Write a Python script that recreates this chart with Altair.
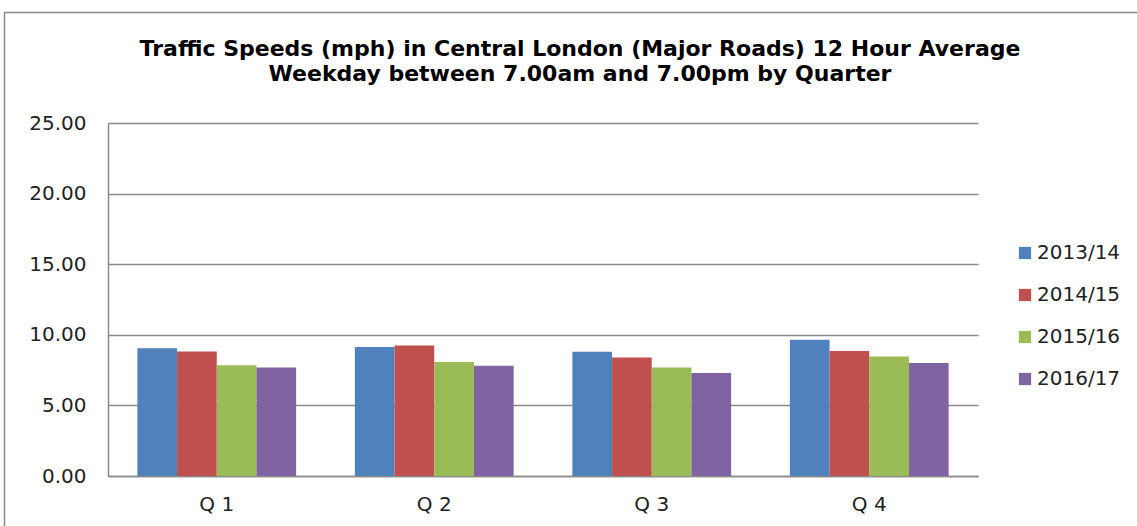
import altair as alt
import pandas as pd

quarters = ["Q 1", "Q 2", "Q 3", "Q 4"]
years = ["2013/14", "2014/15", "2015/16", "2016/17"]
speeds = {
    "2013/14": [9.04, 9.13, 8.80, 9.65],
    "2014/15": [8.82, 9.25, 8.40, 8.85],
    "2015/16": [7.85, 8.07, 7.69, 8.47],
    "2016/17": [7.69, 7.81, 7.29, 8.00],
}
colors = ["#4F81BD", "#C0504D", "#9BBB59", "#8064A2"]
title_lines = [
    "Traffic Speeds (mph) in Central London (Major Roads) 12 Hour Average",
    "Weekday between 7.00am and 7.00pm by Quarter",
]

rows = []
for y in years:
    for q, v in zip(quarters, speeds[y]):
        rows.append({"Quarter": q, "Year": y, "Speed": v})
df = pd.DataFrame(rows)

LABEL_FONT = "DejaVu Sans"

bars = alt.Chart(df).mark_bar().encode(
    x=alt.X("Quarter:N", sort=quarters, title=None,
            scale=alt.Scale(paddingInner=0.27, paddingOuter=0.135),
            axis=alt.Axis(labelAngle=0, ticks=False, labelPadding=18,
                          domainColor="#8a8a8a", domainWidth=1.5)),
    xOffset=alt.XOffset("Year:N", sort=years, scale=alt.Scale(paddingInner=0, paddingOuter=0)),
    y=alt.Y("Speed:Q", title=None,
            scale=alt.Scale(domain=[0, 25], nice=False),
            axis=alt.Axis(values=[0, 5, 10, 15, 20, 25], format=".2f", ticks=False,
                          labelPadding=22, gridColor="#8a8a8a", gridWidth=1.5,
                          domainColor="#8a8a8a", domainWidth=1.5)),
    color=alt.Color("Year:N", sort=years, title=None,
                    scale=alt.Scale(domain=years, range=colors),
                    legend=alt.Legend(orient="none", legendX=907, legendY=120,
                                      symbolType="square", symbolSize=150,
                                      symbolStrokeWidth=0, labelFontSize=20,
                                      labelFont=LABEL_FONT, labelColor="#222222",
                                      rowPadding=22, labelOffset=2)),
)

frame_data = alt.Data(values=[{"a": 1}])
left_line = alt.Chart(frame_data).mark_rule(color="#8a8a8a", strokeWidth=1.5).encode(
    x=alt.value(-103.5), y=alt.value(-111), y2=alt.value(410)
)
top_line = alt.Chart(frame_data).mark_rule(color="#8a8a8a", strokeWidth=1.5).encode(
    x=alt.value(-104), x2=alt.value(1040), y=alt.value(-110.5)
)

def title_text(line, ypos):
    return alt.Chart(frame_data).mark_text(
        font="DejaVu Sans", fontSize=22, fontWeight="bold", color="#000000",
        align="center", baseline="alphabetic"
    ).encode(x=alt.value(472), y=alt.value(ypos), text=alt.value(line))

t1 = title_text(title_lines[0], -67.5)
t2 = title_text(title_lines[1], -42.5)

chart = alt.layer(left_line, top_line, bars, t1, t2).properties(
    width=870,
    height=353,
    padding={"left": 108, "top": 123, "right": 159, "bottom": 50},
    autosize=alt.AutoSizeParams(type="none"),
).configure_view(stroke=None).configure_axis(
    labelFont=LABEL_FONT, labelFontSize=20, labelColor="#222222"
)

chart.save("out.html", embed_options={"renderer": "svg", "actions": False})
